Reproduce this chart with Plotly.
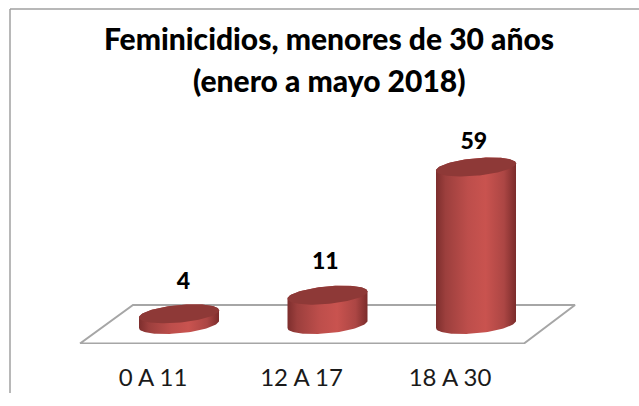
import numpy as np
import plotly.graph_objects as go

categories = ["0 A 11", "12 A 17", "18 A 30"]
values = [4, 11, 59]
title_lines = ["Feminicidios, menores de 30 años", "(enero a mayo 2018)"]
label_pad = [11.4, 12.0, 9.0]

W, H = 639, 406
FONT = "Lato"
BOTTOM = 62
STEP = 148.5            # px per category
X0 = 153                # px of first tick
PXY = 2.67              # px per value unit
BASE_PX = 324.5         # px of value 0 at the cylinder axis
DEPTH = 26 / STEP       # cylinder offset from the tick, floor perspective
A = 40 / STEP
B = 8.8 / PXY
SHEAR = 3.6 / PXY

x_range = [-X0 / STEP, (W - X0) / STEP]
y_range = [(BASE_PX - (H - BOTTOM)) / PXY, BASE_PX / PXY]


def px_x(px):
    return (px - X0) / STEP


def px_y(px):
    return (BASE_PX - px) / PXY


def ellipse(cx, level, t):
    return cx + A * np.cos(t), level + B * np.sin(t) + SHEAR * np.cos(t)


fig = go.Figure()

# floor
floor_px = [(80, 343.5), (524, 343.5), (575, 305), (133, 305), (80, 343.5)]
fig.add_trace(go.Scatter(
    x=[px_x(p[0]) for p in floor_px], y=[px_y(p[1]) for p in floor_px],
    mode="lines", line=dict(color="#a6a6a6", width=2), fill="toself",
    fillcolor="#ffffff", hoverinfo="skip", showlegend=False))

side_scale = [[0, "#7d2e2d"], [0.12, "#9c3f3d"], [0.4, "#bd4e4b"], [0.62, "#c9534f"],
              [0.85, "#ac4644"], [1, "#7b2c2b"]]

for i, v in enumerate(values):
    cx = i + DEPTH
    lower = np.linspace(np.pi, 2 * np.pi, 60)
    upper = np.linspace(0, np.pi, 60)
    bx, by = ellipse(cx, 0, lower)
    tx, ty = ellipse(cx, v, upper)
    fig.add_trace(go.Scatter(
        x=np.r_[bx, tx], y=np.r_[by, ty], mode="lines", line=dict(width=0),
        fill="toself", fillgradient=dict(type="horizontal", colorscale=side_scale),
        hoverinfo="skip", showlegend=False))
    cap = np.linspace(0, 2 * np.pi, 120)
    cxs, cys = ellipse(cx, v, cap)
    fig.add_trace(go.Scatter(
        x=cxs, y=cys, mode="lines", line=dict(width=0), fill="toself",
        fillcolor="#8e3937", hoverinfo="skip", showlegend=False))

fig.add_trace(go.Scatter(
    x=[i + DEPTH + 0.03 * (i == 0) - 0.015 * (i > 0) for i in range(3)],
    y=[v + p for v, p in zip(values, label_pad)],
    mode="text", text=[str(v) for v in values], textposition="middle center",
    textfont=dict(family=FONT, size=23, color="#000000", weight=900),
    hoverinfo="skip", showlegend=False))

bottom_paper = -(393 - (H - BOTTOM)) / (H - BOTTOM)
top_paper = 1 - 9 / (H - BOTTOM)
fig.update_layout(
    width=W, height=H, autosize=False,
    margin=dict(l=0, r=0, t=0, b=BOTTOM),
    paper_bgcolor="#ffffff", plot_bgcolor="#ffffff",
    showlegend=False,
    xaxis=dict(range=x_range, tickmode="array", tickvals=[0, 1, 2], ticktext=categories,
               showgrid=False, zeroline=False, showline=False, ticks="",
               ticklabelstandoff=17,
               tickfont=dict(family=FONT, size=24, color="#1a1a1a"), fixedrange=True),
    yaxis=dict(range=y_range, visible=False, fixedrange=True),
    shapes=[
        dict(type="line", xref="paper", yref="paper", x0=10 / W, x1=10 / W,
             y0=bottom_paper, y1=top_paper, line=dict(color="#a0a0a0", width=1.5)),
        dict(type="line", xref="paper", yref="paper", x0=10 / W, x1=1,
             y0=top_paper, y1=top_paper, line=dict(color="#a0a0a0", width=1.5)),
    ],
    annotations=[
        dict(xref="paper", yref="paper", x=329 / W, y=1 - 38 / (H - BOTTOM),
             text=title_lines[0], showarrow=False, xanchor="center", yanchor="middle",
             font=dict(family=FONT, size=30, color="#000000", weight=900)),
        dict(xref="paper", yref="paper", x=329 / W, y=1 - 80.5 / (H - BOTTOM),
             text=title_lines[1], showarrow=False, xanchor="center", yanchor="middle",
             font=dict(family=FONT, size=30, color="#000000", weight=900)),
    ],
)

fig.write_html("out.html", post_script="document.body.style.margin='0';",
               config=dict(displayModeBar=False))
